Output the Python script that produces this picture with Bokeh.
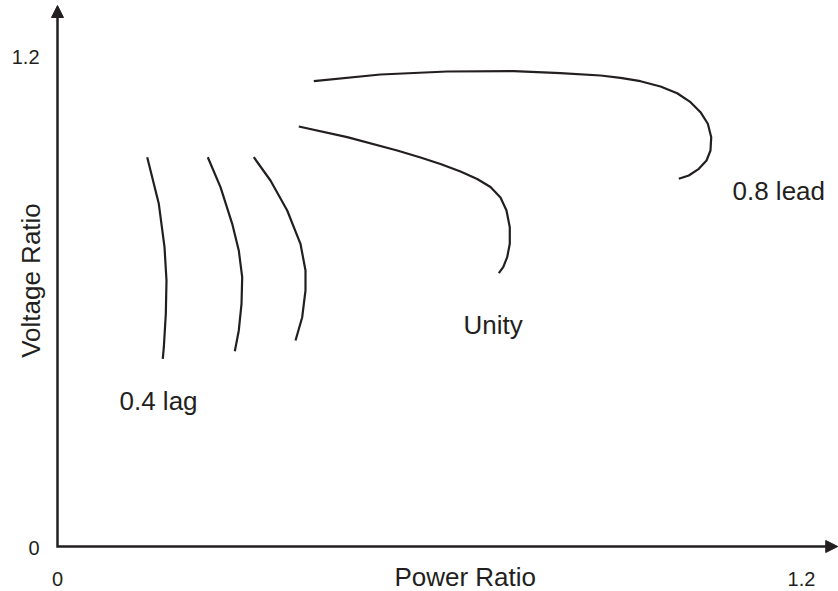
import math
from bokeh.plotting import figure
from bokeh.models import Range1d, Arrow, NormalHead
from bokeh.core.properties import value
from bokeh.embed import file_html
from bokeh.resources import INLINE

# ---- data (power ratio, voltage ratio) ----
power_a = [0.1447, 0.1634, 0.1726, 0.1758, 0.1747, 0.1715, 0.1698]
volt_a = [0.9528, 0.8388, 0.7325, 0.6510, 0.5695, 0.4878, 0.4594]

power_b = [0.2424, 0.2629, 0.2818, 0.2924, 0.2979, 0.2968, 0.2924, 0.2860]
volt_b = [0.9528, 0.8794, 0.7898, 0.7245, 0.6591, 0.5940, 0.5287, 0.4780]

power_c = [0.3166, 0.3435, 0.3705, 0.3919, 0.4000, 0.4000, 0.3947, 0.3839]
volt_c = [0.9528, 0.8958, 0.8224, 0.7409, 0.6755, 0.6266, 0.5612, 0.5042]

power_unity = [0.3892, 0.4673, 0.5479, 0.5855, 0.6177, 0.6500, 0.6769, 0.6984,
               0.7145, 0.7242, 0.7295, 0.7295, 0.7253, 0.7189, 0.7118]
volt_unity = [1.0280, 1.0018, 0.9692, 0.9521, 0.9362, 0.9178, 0.8995, 0.8799,
              0.8542, 0.8224, 0.7815, 0.7409, 0.7081, 0.6836, 0.6689]

power_lead = [0.4134, 0.5210, 0.6285, 0.7360, 0.8113, 0.8758, 0.9081, 0.9403, 0.9726,
              0.9995, 1.0210, 1.0371, 1.0489, 1.0544, 1.0532, 1.0468, 1.0344, 1.0182, 1.0021]
volt_lead = [1.1388, 1.1552, 1.1626, 1.1633, 1.1584, 1.1528, 1.1471, 1.1388, 1.1258,
             1.1094, 1.0874, 1.0630, 1.0346, 1.0018, 0.9692, 0.9447, 0.9244, 0.9080, 0.9000]

curve_labels = ["0.4 lag", "Unity", "0.8 lead"]
x_ticks = [0, 1.2]
x_tick_labels = ["0", "1.2"]
y_ticks = [0, 1.2]
y_tick_labels = ["0", "1.2"]
x_title = "Power Ratio"
y_title = "Voltage Ratio"

# ---- styling ----
INK = "#231f20"
FONT = value("Liberation Sans")
X0, X1 = -0.091935, 1.259677
Y0, Y1 = -0.110137, 1.336336

p = figure(width=838, height=591, x_range=Range1d(X0, X1), y_range=Range1d(Y0, Y1),
           output_backend="svg", toolbar_location=None,
           x_axis_location=None, y_axis_location=None, min_border=0)
p.grid.visible = False
p.outline_line_color = None
p.background_fill_color = "white"
p.border_fill_color = "white"

# axes (L shape) with arrow heads
p.line([0, 0, 1.245], [1.31, 0, 0], line_width=2.5, line_color=INK, line_join="miter")
p.add_layout(Arrow(end=NormalHead(size=12, fill_color=INK, line_color=INK, line_width=1),
                   x_start=0, y_start=1.27, x_end=0, y_end=1.3241,
                   line_color=None))
p.add_layout(Arrow(end=NormalHead(size=12, fill_color=INK, line_color=INK, line_width=1),
                   x_start=1.2, y_start=0, x_end=X1 - 0.0012, y_end=0,
                   line_color=None))

# curves
for xs, ys in [(power_a, volt_a), (power_b, volt_b), (power_c, volt_c),
               (power_unity, volt_unity), (power_lead, volt_lead)]:
    p.line(xs, ys, line_width=2.2, line_color=INK, line_cap="butt", line_join="round")

# curve labels
label_pos = [(0.1000, 0.3549), (0.6548, 0.5433), (1.0887, 0.8713)]
p.text(x=[q[0] for q in label_pos], y=[q[1] for q in label_pos], text=curve_labels,
       text_font=FONT, text_font_size="26px", text_color=INK,
       text_align="left", text_baseline="alphabetic")

# tick labels
p.text(x=x_ticks, y=[0] * len(x_ticks), text=x_tick_labels, y_offset=32,
       text_font=FONT, text_font_size="20px", text_color=INK,
       text_align="center", text_baseline="alphabetic")
p.text(x=[0] * len(y_ticks), y=y_ticks, text=y_tick_labels, x_offset=-18, y_offset=1,
       text_font=FONT, text_font_size="20px", text_color=INK,
       text_align="right", text_baseline="alphabetic")

# axis titles
p.text(x=[0.6576], y=[0], text=[x_title], y_offset=30,
       text_font=FONT, text_font_size="26px", text_color=INK,
       text_align="center", text_baseline="alphabetic")
p.text(x=[-0.0426], y=[0.6510], text=[y_title], angle=math.pi / 2,
       text_font=FONT, text_font_size="26px", text_color=INK,
       text_align="center", text_baseline="alphabetic")

open("out.html", "w").write(file_html(p, INLINE))
